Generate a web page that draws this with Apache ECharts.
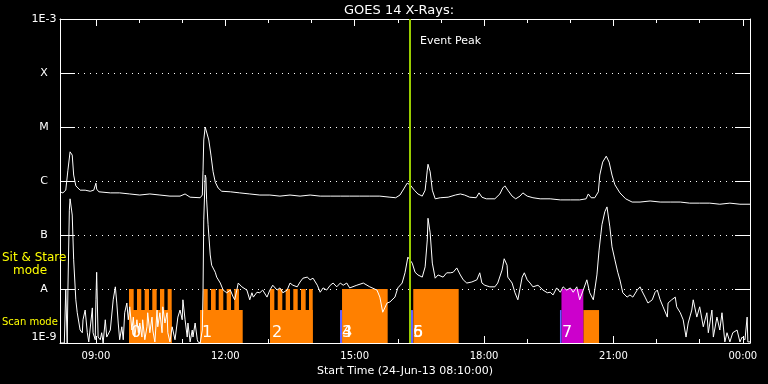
<!DOCTYPE html>
<html>
<head>
<meta charset="utf-8">
<script src="https://cdn.jsdelivr.net/npm/echarts@6/dist/echarts.min.js"></script>
<style>
html,body{margin:0;padding:0;background:#000;}
#chart{width:768px;height:384px;}
</style>
</head>
<body>
<div id="chart"></div>
<script>
// Time in minutes since 00:00 on 24-Jun-13; flux given as log10(W/m^2)
const timeRange = [490, 1450];
const hourTicks = [540,600,660,720,780,840,900,960,1020,1080,1140,1200,1260,1320,1380,1440];
const labelTicks = [540,720,900,1080,1260,1440];
const classLabels = {'-9':'1E-9','-8':'A','-7':'B','-6':'C','-5':'M','-4':'X','-3':'1E-3'};

const longChannel = [[490,-6.20],[494,-6.22],[498,-6.17],[501,-5.80],[504,-5.46],[507,-5.52],[509,-5.89],[512,-6.09],[518,-6.17],[525,-6.17],[532,-6.19],[537,-6.17],[540,-6.04],[541,-6.15],[544,-6.20],[560,-6.22],[573,-6.22],[587,-6.24],[601,-6.26],[615,-6.24],[629,-6.26],[643,-6.28],[657,-6.28],[664,-6.24],[671,-6.30],[685,-6.31],[688,-6.26],[689,-5.80],[690,-5.24],[692,-5.00],[694,-5.02],[697,-5.24],[700,-5.52],[703,-5.83],[706,-6.02],[710,-6.13],[715,-6.19],[727,-6.20],[740,-6.22],[754,-6.24],[768,-6.26],[782,-6.26],[796,-6.28],[810,-6.26],[824,-6.28],[838,-6.26],[852,-6.28],[866,-6.28],[880,-6.28],[893,-6.28],[907,-6.28],[921,-6.28],[935,-6.28],[949,-6.30],[957,-6.31],[963,-6.26],[969,-6.13],[973,-6.04],[977,-6.07],[983,-6.17],[988,-6.24],[994,-6.28],[998,-6.17],[1001,-5.80],[1002,-5.69],[1005,-5.83],[1008,-6.17],[1012,-6.33],[1019,-6.31],[1030,-6.30],[1040,-6.26],[1047,-6.24],[1053,-6.26],[1060,-6.30],[1069,-6.31],[1073,-6.22],[1077,-6.30],[1083,-6.33],[1095,-6.33],[1102,-6.24],[1106,-6.13],[1109,-6.09],[1113,-6.17],[1119,-6.28],[1124,-6.33],[1130,-6.28],[1134,-6.22],[1140,-6.28],[1148,-6.31],[1158,-6.33],[1172,-6.33],[1186,-6.35],[1200,-6.35],[1213,-6.35],[1222,-6.33],[1225,-6.24],[1229,-6.31],[1234,-6.31],[1239,-6.20],[1241,-5.89],[1245,-5.65],[1250,-5.54],[1254,-5.65],[1258,-5.89],[1262,-6.07],[1269,-6.22],[1277,-6.33],[1286,-6.39],[1297,-6.39],[1311,-6.37],[1325,-6.39],[1339,-6.39],[1353,-6.39],[1366,-6.41],[1380,-6.41],[1394,-6.41],[1408,-6.43],[1422,-6.41],[1436,-6.43],[1450,-6.43]];

const shortChannel = [[490,-9],[496,-9],[498,-8.00],[500,-9],[501,-8.02],[503,-6.54],[504,-6.33],[507,-6.63],[509,-7.46],[512,-8.20],[514,-8.44],[518,-8.76],[521,-8.81],[522,-8.57],[525,-8.39],[528,-8.81],[530,-8.98],[535,-8.35],[536,-8.81],[539,-8.94],[540,-8.20],[541,-7.69],[543,-8.89],[546,-8.94],[548,-8.81],[550,-9],[553,-8.57],[555,-8.89],[560,-8.76],[564,-8.20],[567,-7.96],[569,-8.26],[571,-8.63],[573,-8.94],[576,-8.70],[578,-8.94],[580,-8.44],[583,-8.26],[585,-8.57],[587,-8.33],[590,-8.76],[592,-8.52],[594,-8.89],[597,-8.57],[599,-8.81],[601,-8.63],[604,-8.89],[605,-8.57],[608,-8.94],[611,-8.70],[612,-8.44],[615,-8.81],[618,-8.52],[619,-8.76],[622,-8.98],[625,-8.39],[626,-8.70],[629,-8.44],[632,-8.81],[633,-8.33],[636,-8.63],[639,-8.44],[640,-8.81],[643,-8.98],[646,-8.70],[650,-8.94],[654,-8.52],[657,-8.39],[660,-8.57],[661,-8.20],[664,-8.57],[667,-8.89],[668,-8.63],[671,-8.98],[674,-8.76],[675,-8.89],[678,-8.63],[681,-8.94],[682,-8.98],[685,-9],[688,-8.76],[689,-8.02],[690,-6.72],[692,-5.89],[693,-5.94],[694,-6.35],[696,-6.81],[699,-7.37],[701,-7.56],[706,-7.69],[708,-7.78],[713,-7.89],[717,-8.02],[722,-8.07],[727,-8.02],[731,-8.15],[733,-8.20],[736,-8.02],[738,-7.89],[740,-7.87],[743,-7.96],[745,-7.93],[750,-8.02],[754,-8.20],[757,-8.07],[759,-8.15],[764,-8.06],[768,-8.07],[772,-8.02],[778,-8.15],[782,-8.02],[786,-7.93],[792,-8.02],[796,-7.98],[800,-8.07],[806,-8.02],[810,-7.89],[814,-7.93],[820,-7.96],[824,-7.87],[828,-7.80],[834,-7.78],[838,-7.83],[842,-7.80],[848,-7.93],[852,-8.06],[856,-7.98],[861,-8.02],[866,-7.93],[870,-7.89],[875,-7.96],[880,-7.89],[884,-7.93],[889,-7.89],[893,-7.98],[903,-7.93],[912,-7.89],[921,-7.96],[931,-8.02],[935,-8.15],[939,-8.43],[945,-8.26],[949,-8.24],[956,-8.15],[960,-7.98],[966,-7.89],[970,-7.70],[974,-7.41],[980,-7.52],[984,-7.69],[988,-7.74],[994,-7.78],[998,-7.59],[1001,-7.09],[1002,-6.69],[1005,-6.96],[1008,-7.52],[1012,-7.80],[1016,-7.74],[1023,-7.78],[1028,-7.70],[1033,-7.70],[1037,-7.69],[1042,-7.61],[1047,-7.74],[1051,-7.83],[1056,-7.89],[1063,-7.87],[1070,-7.83],[1074,-7.70],[1077,-7.89],[1081,-7.93],[1088,-7.96],[1095,-7.96],[1099,-7.89],[1105,-7.65],[1108,-7.44],[1112,-7.56],[1113,-7.78],[1119,-7.89],[1123,-8.07],[1127,-8.20],[1133,-7.78],[1136,-7.70],[1140,-7.83],[1144,-7.89],[1148,-7.96],[1155,-7.93],[1162,-8.02],[1168,-8.07],[1172,-8.06],[1176,-8.11],[1181,-7.98],[1186,-8.06],[1190,-7.96],[1195,-8.02],[1200,-7.98],[1204,-8.06],[1209,-7.96],[1213,-8.20],[1218,-8.02],[1223,-7.83],[1227,-8.07],[1232,-8.20],[1237,-7.74],[1240,-7.28],[1244,-6.81],[1248,-6.57],[1251,-6.48],[1255,-6.85],[1258,-7.22],[1262,-7.46],[1266,-7.69],[1269,-7.83],[1273,-8.07],[1279,-8.15],[1283,-8.11],[1287,-8.15],[1293,-8.02],[1297,-7.96],[1299,-8.02],[1304,-8.15],[1308,-8.26],[1314,-8.20],[1318,-8.06],[1321,-8.02],[1325,-8.20],[1329,-8.33],[1335,-8.52],[1336,-8.26],[1341,-8.20],[1346,-8.15],[1348,-8.33],[1353,-8.44],[1357,-8.57],[1361,-8.89],[1364,-8.63],[1369,-8.39],[1371,-8.20],[1376,-8.52],[1380,-8.33],[1385,-8.70],[1390,-8.44],[1392,-8.81],[1397,-8.39],[1399,-8.89],[1404,-8.52],[1408,-8.76],[1411,-8.44],[1415,-8.98],[1418,-8.81],[1422,-8.98],[1426,-8.81],[1432,-8.76],[1436,-8.98],[1439,-8.89],[1443,-8.94],[1446,-8.52],[1447,-8.98],[1450,-8.98]];

// Observation blocks (start, end minutes)
const scanBars = [[586,645.4],[684.8,744.2],[782.2,841.6],[1218.1,1240]];
const sitStareBars = [[586,592.5],[597.1,603.1],[607.8,613.8],[618.4,624.5],[629.1,635.1],[639.8,645.4],[689.4,695.5],[700.1,706.6],[710.8,717.2],[721.9,727.9],[732.5,739],[782.2,788.2],[792.9,799.3],[804,810],[814.6,820.7],[825.3,831.8],[836.4,841.6],[882.4,945.9],[981.5,1044.7]];
const magentaBars = [[1187.7,1218.1]];
const blueBars = [[879.6,882.4],[978.3,981.1],[1185.6,1187.7]];
const blockLabelTimes = [586,684.8,782.2,879.6,879.6,978.3,978.3,1185.6];
const blockLabelTexts = ['0','1','2','3','4','5','6','7'];
const eventPeak = 976.5;

const SCAN_TOP = Math.pow(10,-8.39);
const SIT_TOP = 1e-8;
const FONT = 'DejaVu Sans';

const barData = [];
scanBars.forEach(b => barData.push([b[0], b[1], SCAN_TOP, 0]));
sitStareBars.forEach(b => barData.push([b[0], b[1], SIT_TOP, 0]));
magentaBars.forEach(b => barData.push([b[0], b[1], SIT_TOP, 1]));
blueBars.forEach(b => barData.push([b[0], b[1], SCAN_TOP, 2]));
const barColors = ['#ff8000', '#cc00cc', '#6060ff'];

const toFlux = arr => arr.map(p => [p[0], Math.pow(10, p[1])]);
const pad = n => (n < 10 ? '0' : '') + n;

function xAxisDef(pos, len, ticks, withLabel, withLine) {
  return {
    type: 'value', min: timeRange[0], max: timeRange[1], position: pos,
    axisLine: { show: withLine, lineStyle: { color: '#fff', width: 1 } },
    axisTick: { show: true, inside: true, length: len, customValues: ticks, lineStyle: { color: '#fff', width: 1 } },
    axisLabel: withLabel ? {
      show: true, customValues: labelTicks, color: '#fff', fontFamily: FONT, fontSize: 10, margin: 8,
      formatter: v => pad(Math.floor(v / 60) % 24) + ':' + pad(Math.round(v % 60))
    } : { show: false },
    splitLine: { show: false },
    name: withLabel ? 'Start Time (24-Jun-13 08:10:00)' : '',
    nameLocation: 'middle', nameGap: 19,
    nameTextStyle: { color: '#fff', fontFamily: FONT, fontSize: 11 }
  };
}

const chart = echarts.init(document.getElementById('chart'), null, { renderer: 'canvas' });
chart.setOption({
  backgroundColor: '#000',
  animation: false,
  title: {
    text: 'GOES 14 X-Rays:', left: 344, top: 4, padding: 0,
    textStyle: { color: '#fff', fontFamily: FONT, fontSize: 13, fontWeight: 'normal' }
  },
  grid: { left: 60, right: 18, top: 19, bottom: 41, containLabel: false },
  xAxis: [
    xAxisDef('bottom', 4, hourTicks, true, true),
    xAxisDef('bottom', 7, labelTicks, false, false),
    xAxisDef('top', 4, hourTicks, false, true),
    xAxisDef('top', 7, labelTicks, false, false)
  ],
  yAxis: [
    {
      type: 'log', logBase: 10, min: 1e-9, max: 1e-3, splitNumber: 6, position: 'left',
      axisLine: { show: true, lineStyle: { color: '#fff', width: 1 } },
      axisTick: { show: true, inside: true, length: 15, lineStyle: { color: '#fff', width: 1 } },
      axisLabel: {
        show: true, color: '#fff', fontFamily: FONT, fontSize: 11, align: 'center', margin: 16,
        verticalAlignMinLabel: 'bottom', verticalAlignMaxLabel: 'top',
        formatter: v => classLabels[String(Math.round(Math.log10(v)))] || ''
      },
      splitLine: { show: true, lineStyle: { color: '#fff', width: 1, type: [1, 5] } },
      minorTick: { show: false }
    },
    {
      type: 'log', logBase: 10, min: 1e-9, max: 1e-3, splitNumber: 6, position: 'right',
      axisLine: { show: true, lineStyle: { color: '#fff', width: 1 } },
      axisTick: { show: true, inside: true, length: 15, lineStyle: { color: '#fff', width: 1 } },
      axisLabel: { show: false },
      splitLine: { show: false }
    }
  ],
  graphic: [
    { type: 'text', left: 2, top: 252, style: { text: 'Sit & Stare', fill: '#ffff00', font: '12px "DejaVu Sans"' }, z: 10 },
    { type: 'text', left: 13, top: 265, style: { text: 'mode', fill: '#ffff00', font: '12px "DejaVu Sans"' }, z: 10 },
    { type: 'text', left: 2, top: 317, style: { text: 'Scan mode', fill: '#ffff00', font: '10px "DejaVu Sans"' }, z: 10 },
    { type: 'text', left: 420, top: 36, style: { text: 'Event Peak', fill: '#ffffff', font: '11px "DejaVu Sans"' }, z: 10 }
  ],
  series: [
    {
      type: 'custom', name: 'blocks', xAxisIndex: 0, yAxisIndex: 0, z: 1,
      data: barData, encode: { x: [0, 1], y: 2 },
      renderItem: (params, api) => {
        const p0 = api.coord([api.value(0), api.value(2)]);
        const p1 = api.coord([api.value(1), 1e-9]);
        return {
          type: 'rect',
          shape: { x: p0[0], y: p0[1], width: p1[0] - p0[0], height: p1[1] - p0[1] },
          style: { fill: barColors[api.value(3)] }
        };
      }
    },
    {
      type: 'custom', name: 'blockLabels', xAxisIndex: 0, yAxisIndex: 0, z: 4,
      data: blockLabelTimes.map(t => [t, 1e-9]), encode: { x: 0, y: 1 },
      renderItem: (params, api) => {
        const p = api.coord([api.value(0), api.value(1)]);
        return {
          type: 'text', x: p[0] + 2, y: p[1] - 10,
          style: { text: blockLabelTexts[params.dataIndex], fill: '#fff', font: '16px "DejaVu Sans"', verticalAlign: 'middle', align: 'left' }
        };
      }
    },
    {
      type: 'line', name: 'long', xAxisIndex: 0, yAxisIndex: 0, z: 3,
      data: toFlux(longChannel), showSymbol: false, symbol: 'none',
      lineStyle: { color: '#fff', width: 1 }
    },
    {
      type: 'line', name: 'short', xAxisIndex: 0, yAxisIndex: 0, z: 3,
      data: toFlux(shortChannel), showSymbol: false, symbol: 'none',
      lineStyle: { color: '#fff', width: 1 },
      markLine: {
        silent: true, symbol: ['none', 'none'], label: { show: false },
        lineStyle: { color: '#99cc00', width: 2, type: 'solid' },
        data: [{ xAxis: eventPeak }]
      }
    }
  ]
});
</script>
</body>
</html>
